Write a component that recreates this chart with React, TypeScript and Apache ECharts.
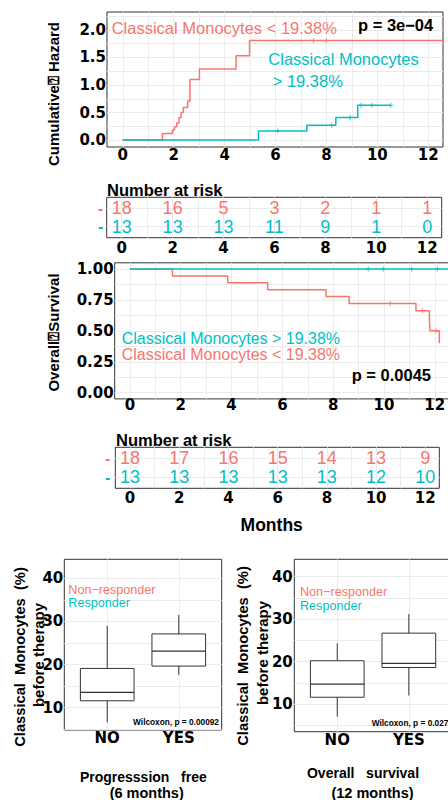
import React, { useEffect, useRef } from 'react';
import * as echarts from 'echarts';

const RED = '#F8766D';
const TEAL = '#00BFC4';

// Cumulative hazard (months, value)
const hazLowTimes = [0, 1.56, 1.95, 2.03, 2.12, 2.21, 2.29, 2.38, 2.55, 2.64, 3.01, 4.45, 4.98, 12.58];
const hazLowValues = [0, 0.12, 0.18, 0.24, 0.31, 0.41, 0.5, 0.59, 0.71, 1.1, 1.29, 1.53, 1.81, 1.81];
const hazLowCensorTimes = [7.49, 7.99];
const hazLowCensorValues = [1.81, 1.81];
const hazHighTimes = [0, 5.33, 7.23, 8.37, 9.23, 10.53];
const hazHighValues = [0, 0.164, 0.27, 0.41, 0.63, 0.63];
const hazHighCensorTimes = [6.09, 8.21, 8.93, 9.36, 9.78, 10.53];
const hazHighCensorValues = [0.164, 0.27, 0.41, 0.63, 0.63, 0.63];

// Overall survival
const survLowTimes = [0, 1.67, 3.85, 5.42, 7.72, 8.63, 11.26, 11.79, 11.81, 12.18];
const survLowValues = [1, 0.944, 0.889, 0.833, 0.778, 0.722, 0.662, 0.58, 0.5, 0.4];
const survLowCensorTimes = [10.24, 11.52, 12.05];
const survLowCensorValues = [0.722, 0.662, 0.5];
const survHighTimes = [0, 12.6];
const survHighValues = [1, 1];
const survHighCensorTimes = [9.38, 9.97, 11.09, 12.1];
const survHighCensorValues = [1, 1, 1, 1];

// Number at risk
const riskMonths = [0, 2, 4, 6, 8, 10, 12];
const hazRiskLow = [18, 16, 5, 3, 2, 1, 1];
const hazRiskHigh = [13, 13, 13, 11, 9, 1, 0];
const survRiskLow = [18, 17, 16, 15, 14, 13, 9];
const survRiskHigh = [13, 13, 13, 13, 13, 12, 10];

// Box plots: [min whisker, Q1, median, Q3, max whisker]
const boxCategories = ['NO', 'YES'];
const pfsNo = [6.6, 11.6, 13.55, 19.1, 29.0];
const pfsYes = [17.6, 19.65, 23.1, 27.1, 31.5];
const osNo = [7.05, 11.6, 14.7, 20.2, 24.3];
const osYes = [12.0, 18.6, 19.6, 26.7, 31.2];

// Tick labels
const monthTicks = [0, 2, 4, 6, 8, 10, 12];
const monthGrid = [0, 1, 2, 3, 4, 5, 6, 7, 8, 9, 10, 11, 12];
const hazTicks = [0, 0.5, 1, 1.5, 2];
const hazGrid = [0, 0.25, 0.5, 0.75, 1, 1.25, 1.5, 1.75, 2, 2.25];
const survTicks = [0, 0.25, 0.5, 0.75, 1];
const survGrid = [0, 0.125, 0.25, 0.375, 0.5, 0.625, 0.75, 0.875, 1];
const boxTicks = [10, 20, 30, 40];
const boxGrid = [5, 10, 15, 20, 25, 30, 35, 40];

const zip = (a: number[], b: number[]) => a.map((v, i) => [v, b[i]]);

const PLUS = 'path://M4,0H6V4H10V6H6V10H4V6H0V4H4Z';
const TICK_FONT = { fontFamily: 'DejaVu Sans', fontWeight: 'bold', fontSize: 15, color: '#000' };

function valAxis(gridIndex: number, min: number, max: number, grid: number[], labels: number[], formatter: any, margin: number, extra: any = {}) {
  return {
    type: 'value', gridIndex, min, max,
    axisLine: { show: false },
    axisTick: { show: false, customValues: grid },
    splitLine: { show: true, lineStyle: { color: '#EBEBEB', width: 1 } },
    axisLabel: { customValues: labels, formatter, margin, ...TICK_FONT, ...extra },
  };
}

function stepLine(xi: number, times: number[], vals: number[], color: string) {
  return {
    type: 'line', xAxisIndex: xi, yAxisIndex: xi, step: 'end', data: zip(times, vals),
    showSymbol: false, symbol: 'none', lineStyle: { color, width: 1.5 }, itemStyle: { color }, silent: true,
  };
}
function censors(xi: number, times: number[], vals: number[], color: string) {
  return {
    type: 'scatter', xAxisIndex: xi, yAxisIndex: xi, data: zip(times, vals),
    symbol: PLUS, symbolSize: 5, itemStyle: { color }, silent: true,
  };
}
function riskText(xi: number, row: number, counts: number[], color: string) {
  return {
    type: 'custom', xAxisIndex: xi, yAxisIndex: xi,
    data: riskMonths.map((m, i) => [m, row, counts[i]]),
    encode: { x: 0, y: 1 },
    renderItem: (_p: any, api: any) => {
      const c = api.coord([api.value(0), api.value(1)]);
      return {
        type: 'text', x: c[0], y: c[1],
        style: {
          text: String(api.value(2)), fill: color, fontSize: 18, fontFamily: 'Liberation Sans',
          align: 'center', verticalAlign: 'middle', textAlign: 'center', textVerticalAlign: 'middle',
        },
      };
    },
  };
}
function boxSeries(xi: number, stats: number[][]) {
  return {
    type: 'custom', xAxisIndex: xi, yAxisIndex: xi,
    data: stats.map((s, i) => [i + 1, ...s]),
    encode: { x: 0, y: 3 },
    renderItem: (_p: any, api: any) => {
      const x = api.value(0);
      const cLo = api.coord([x, api.value(1)]);
      const cQ1 = api.coord([x, api.value(2)]);
      const cMd = api.coord([x, api.value(3)]);
      const cQ3 = api.coord([x, api.value(4)]);
      const cHi = api.coord([x, api.value(5)]);
      const hw = api.size([0.375, 0])[0];
      const cx = cMd[0];
      const st = { stroke: '#333', lineWidth: 1 };
      return {
        type: 'group',
        children: [
          { type: 'line', shape: { x1: cx, y1: cHi[1], x2: cx, y2: cQ3[1] }, style: st },
          { type: 'line', shape: { x1: cx, y1: cQ1[1], x2: cx, y2: cLo[1] }, style: st },
          { type: 'rect', shape: { x: cx - hw, y: cQ3[1], width: 2 * hw, height: cQ1[1] - cQ3[1] }, style: { fill: '#fff', stroke: '#333', lineWidth: 1 } },
          { type: 'line', shape: { x1: cx - hw, y1: cMd[1], x2: cx + hw, y2: cMd[1] }, style: { stroke: '#333', lineWidth: 1.2 } },
        ],
      };
    },
  };
}

function txt(x: number, y: number, text: string, opts: any = {}) {
  const { color = '#000', size = 16.5, weight = 'normal', family = 'Liberation Sans', align = 'left', rotate = 0 } = opts;
  return {
    type: 'text', x, y, rotation: rotate, z: 100,
    style: {
      text, fill: color, fontSize: size, fontWeight: weight, fontFamily: family,
      align, verticalAlign: 'middle', textAlign: align, textVerticalAlign: 'middle',
    },
  };
}

export default function App() {
  const ref = useRef<HTMLDivElement>(null);
  useEffect(() => {
    document.body.style.margin = '0';
    const chart = echarts.init(ref.current!, null, { renderer: 'svg' });
    const gridBase = { show: true, borderColor: '#333', borderWidth: 1, backgroundColor: '#fff', containLabel: false, outerBoundsMode: 'none' };
    const grids = [
      { left: 107, top: 12, width: 336, height: 135 },
      { left: 106.7, top: 197.3, width: 335, height: 40.4 },
      { left: 114.7, top: 262.8, width: 335.3, height: 136.1 },
      { left: 115.3, top: 447.3, width: 324, height: 41 },
      { left: 64.3, top: 559.3, width: 157.4, height: 170.7 },
      { left: 294.3, top: 559.3, width: 157.5, height: 172.4 },
    ].map((g) => ({ ...g, ...gridBase }));

    const intFmt = (v: number) => String(v);
    const dashFmt = (v: number) => (v === 2 ? '{r|-}' : '{t|-}');
    const dashRich = { rich: { r: { color: RED, fontSize: 16, fontFamily: 'Liberation Sans' }, t: { color: TEAL, fontSize: 16, fontFamily: 'Liberation Sans' } } };
    const catFmt = (v: number) => boxCategories[Math.round(v) - 1];

    const xAxis = [
      valAxis(0, -0.62, 12.58, monthGrid, monthTicks, intFmt, 8, { verticalAlign: 'middle' }),
      valAxis(1, -0.59, 12.57, monthGrid, monthTicks, intFmt, 10, { verticalAlign: 'middle' }),
      valAxis(2, -0.6, 12.6, monthGrid, monthTicks, intFmt, 6.5, { verticalAlign: 'middle' }),
      valAxis(3, -0.6, 12.57, monthGrid, monthTicks, intFmt, 9.4, { verticalAlign: 'middle' }),
      valAxis(4, 0.4, 2.6, [1, 2], [1, 2], catFmt, 8.3, { verticalAlign: 'middle' }),
      valAxis(5, 0.4, 2.6, [1, 2], [1, 2], catFmt, 8.3, { verticalAlign: 'middle' }),
    ];
    const yAxis = [
      valAxis(0, -0.127, 2.327, hazGrid, hazTicks, (v: number) => v.toFixed(1), 1),
      valAxis(1, 0.4, 2.6, [1, 2], [1, 2], dashFmt, 3.4, dashRich),
      valAxis(2, -0.05, 1.05, survGrid, survTicks, (v: number) => v.toFixed(2), 1),
      valAxis(3, 0.4, 2.6, [1, 2], [1, 2], dashFmt, 5, dashRich),
      valAxis(4, 4.83, 44.4, boxGrid, boxTicks, intFmt, 1),
      valAxis(5, 3.48, 44.1, boxGrid, boxTicks, intFmt, 1.5),
    ];

    const series = [
      stepLine(0, hazLowTimes, hazLowValues, RED),
      censors(0, hazLowCensorTimes, hazLowCensorValues, RED),
      stepLine(0, hazHighTimes, hazHighValues, TEAL),
      censors(0, hazHighCensorTimes, hazHighCensorValues, TEAL),
      riskText(1, 2, hazRiskLow, RED),
      riskText(1, 1, hazRiskHigh, TEAL),
      stepLine(2, survLowTimes, survLowValues, RED),
      censors(2, survLowCensorTimes, survLowCensorValues, RED),
      stepLine(2, survHighTimes, survHighValues, TEAL),
      censors(2, survHighCensorTimes, survHighCensorValues, TEAL),
      riskText(3, 2, survRiskLow, RED),
      riskText(3, 1, survRiskHigh, TEAL),
      boxSeries(4, [pfsNo, pfsYes]),
      boxSeries(5, [osNo, osYes]),
    ];

    const R90 = Math.PI / 2;
    const graphic = [
      txt(111.7, 28.3, 'Classical Monocytes < 19.38%', { color: RED }),
      txt(358, 25, 'p = 3e\u221204', { weight: 'bold' }),
      txt(268.3, 59.3, 'Classical Monocytes', { color: TEAL }),
      txt(272.7, 81, '> 19.38%', { color: TEAL }),
      txt(53, 94, 'Cumulative\u2370 Hazard', { weight: 'bold', size: 15, align: 'center', rotate: R90 }),
      txt(107, 190, 'Number at risk', { weight: 'bold', size: 16.5 }),
      txt(53.3, 332.5, 'Overall\u2370Survival', { weight: 'bold', size: 15, align: 'center', rotate: R90 }),
      txt(121.7, 338.5, 'Classical Monocytes > 19.38%', { color: TEAL, size: 16 }),
      txt(121.7, 354.6, 'Classical Monocytes < 19.38%', { color: RED, size: 16 }),
      txt(351.7, 375, 'p = 0.0045', { weight: 'bold' }),
      txt(116, 440, 'Number at risk', { weight: 'bold', size: 16.5 }),
      txt(271.7, 525, 'Months', { weight: 'bold', size: 17.5, align: 'center' }),
      txt(68.3, 589.6, 'Non\u2212responder', { color: RED, size: 12.6 }),
      txt(68.3, 603.1, 'Responder', { color: TEAL, size: 12.6 }),
      txt(219, 721.7, 'Wilcoxon, p = 0.00092', { weight: 'bold', size: 8.3, align: 'right' }),
      txt(300, 592.3, 'Non\u2212responder', { color: RED, size: 12.6 }),
      txt(300, 605.6, 'Responder', { color: TEAL, size: 12.6 }),
      txt(371.7, 723.3, 'Wilcoxon, p = 0.027', { weight: 'bold', size: 8.3 }),
      txt(19.5, 657, 'Classical\u00a0\u00a0Monocytes\u00a0\u00a0(%)', { weight: 'bold', size: 14.7, align: 'center', rotate: R90 }),
      txt(38.5, 655, 'before therapy', { weight: 'bold', size: 15, align: 'center', rotate: R90 }),
      txt(243.3, 656, 'Classical\u00a0\u00a0Monocytes\u00a0\u00a0(%)', { weight: 'bold', size: 14.7, align: 'center', rotate: R90 }),
      txt(262.5, 653, 'before therapy', { weight: 'bold', size: 15, align: 'center', rotate: R90 }),
      txt(143.3, 776.7, 'Progresssion\u00a0\u00a0\u00a0free', { weight: 'bold', size: 14, align: 'center' }),
      txt(146.7, 793.3, '(6 months)', { weight: 'bold', size: 14.5, align: 'center' }),
      txt(363, 773.3, 'Overall\u00a0\u00a0\u00a0survival', { weight: 'bold', size: 14, align: 'center' }),
      txt(372.5, 793.3, '(12 months)', { weight: 'bold', size: 14.5, align: 'center' }),
    ];

    chart.setOption({
      animation: false,
      backgroundColor: '#fff',
      grid: grids,
      xAxis,
      yAxis,
      series,
      graphic,
    });
    return () => chart.dispose();
  }, []);
  return <div ref={ref} style={{ position: 'absolute', left: 0, top: 0, width: 448, height: 800 }} />;
}
